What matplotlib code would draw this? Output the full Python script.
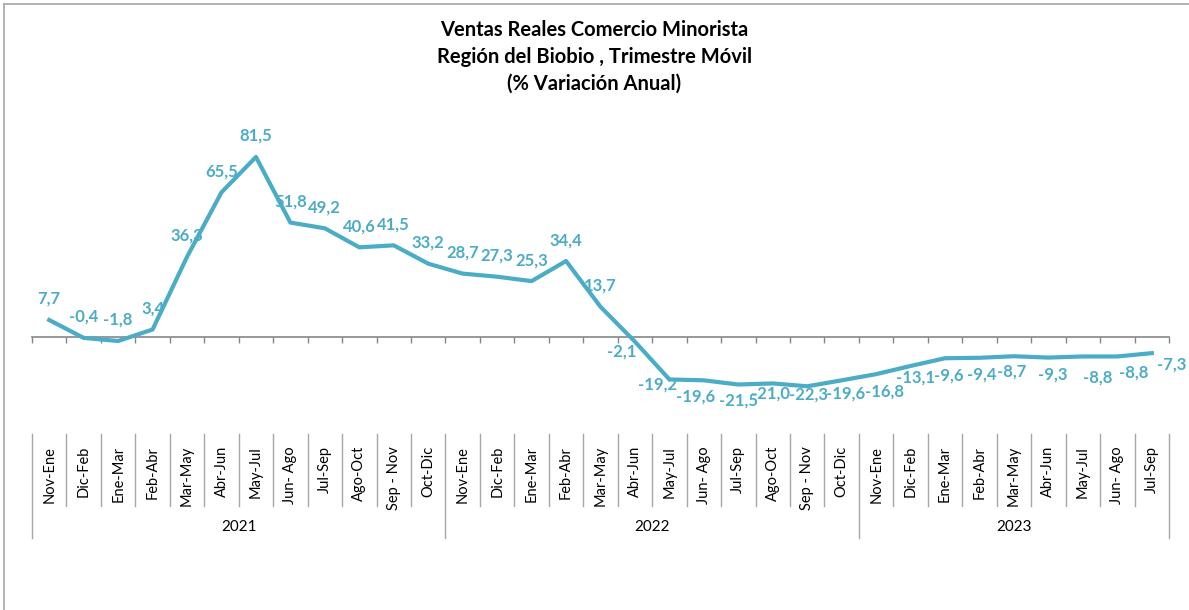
import numpy as np
import matplotlib.pyplot as plt
import matplotlib.transforms as mtransforms
from matplotlib.lines import Line2D

plt.rcParams['font.family'] = ['Lato', 'DejaVu Sans']

# Data
periods = ['Nov-Ene', 'Dic-Feb', 'Ene-Mar', 'Feb-Abr', 'Mar-May', 'Abr-Jun',
           'May-Jul', 'Jun- Ago', 'Jul-Sep', 'Ago-Oct', 'Sep - Nov', 'Oct-Dic',
           'Nov-Ene', 'Dic-Feb', 'Ene-Mar', 'Feb-Abr', 'Mar-May', 'Abr-Jun',
           'May-Jul', 'Jun- Ago', 'Jul-Sep', 'Ago-Oct', 'Sep - Nov', 'Oct-Dic',
           'Nov-Ene', 'Dic-Feb', 'Ene-Mar', 'Feb-Abr', 'Mar-May', 'Abr-Jun',
           'May-Jul', 'Jun- Ago', 'Jul-Sep']
years = ['2021', '2022', '2023']
year_counts = [12, 12, 9]
values = [7.7, -0.4, -1.8, 3.4, 36.3, 65.5, 81.5, 51.8, 49.2, 40.6, 41.5, 33.2,
          28.7, 27.3, 25.3, 34.4, 13.7, -2.1, -19.2, -19.6, -21.5, -21.0, -22.3, -19.6,
          -16.8, -13.1, -9.6, -9.4, -8.7, -9.3, -8.8, -8.8, -7.3]

# label offsets in pixels (dx, dy)
label_offsets = [(0, 21)] * 17 + [
    (-13, -10), (-12, -5), (-8, -16), (0, -16), (-2, -10), (1, -8), (4, -13),
    (8, -17), (5, -12), (4, -17), (2, -17), (-2, -15), (4, -17), (15, -21),
    (16, -16), (20, -11)]

W, H = 1189, 610
line_color = '#4BACC6'
gray = '#868686'

fig = plt.figure(figsize=(W / 100, H / 100), dpi=100)
ax = fig.add_axes([32 / W, 1 - 425.4 / H, (1169 - 32) / W, (425.4 - 120.5) / H])
n = len(values)
x = np.arange(n)
ax.set_xlim(-0.5, n - 0.5)
ax.set_ylim(-40, 98)

ax.plot(x, values, color=line_color, lw=3, solid_joinstyle='round', zorder=3)

for xi, v, (dx, dy) in zip(x, values, label_offsets):
    ax.annotate(f"{v:.1f}".replace('.', ','), (xi, v), xytext=(dx, dy),
                textcoords='offset pixels', ha='center', va='center',
                color=line_color, fontsize=12, fontweight='bold', zorder=4)

# axis at zero with ticks
for s in ['top', 'right', 'left']:
    ax.spines[s].set_visible(False)
ax.spines['bottom'].set_position(('data', 0))
ax.spines['bottom'].set_color(gray)
ax.spines['bottom'].set_linewidth(1.2)
ax.set_xticks(np.arange(-0.5, n, 1))
ax.set_xticklabels([])
ax.tick_params(axis='x', direction='out', length=4, color=gray, width=1)
ax.set_yticks([])
ax.patch.set_visible(False)

# category labels (two levels)
trans = mtransforms.blended_transform_factory(ax.transData, fig.transFigure)
for xi, lab in zip(x, periods):
    ax.text(xi, 1 - 446 / H, lab, rotation=90, ha='center', va='top',
            fontsize=10.5, color='black', transform=trans)

bounds = np.cumsum([0] + year_counts) - 0.5
for b in np.arange(-0.5, n, 1):
    long = np.any(np.isclose(b, bounds))
    y_end = 538 if long else 506
    ax.plot([b, b], [1 - 434 / H, 1 - y_end / H], color='#A6A6A6', lw=1,
            transform=trans, clip_on=False)

for yr, lo, hi in zip(years, bounds[:-1], bounds[1:]):
    ax.text((lo + hi) / 2, 1 - 527 / H, yr, ha='center', va='center',
            fontsize=11, transform=trans)

# title
titles = ['Ventas Reales Comercio Minorista',
          'Región del Biobio , Trimestre Móvil',
          '(% Variación Anual)']
for t, yp in zip(titles, [30, 57, 84]):
    fig.text(0.5, 1 - yp / H, t, ha='center', va='center',
             fontsize=14.5, fontweight='bold')

# chart frame (top and left edges visible)
fig.add_artist(Line2D([4 / W, 1], [1 - 4 / H, 1 - 4 / H], color='#A6A6A6', lw=1.2,
                      transform=fig.transFigure))
fig.add_artist(Line2D([4 / W, 4 / W], [1 - 4 / H, 0], color='#A6A6A6', lw=1.2,
                      transform=fig.transFigure))

fig.savefig('out.png', dpi=100)
